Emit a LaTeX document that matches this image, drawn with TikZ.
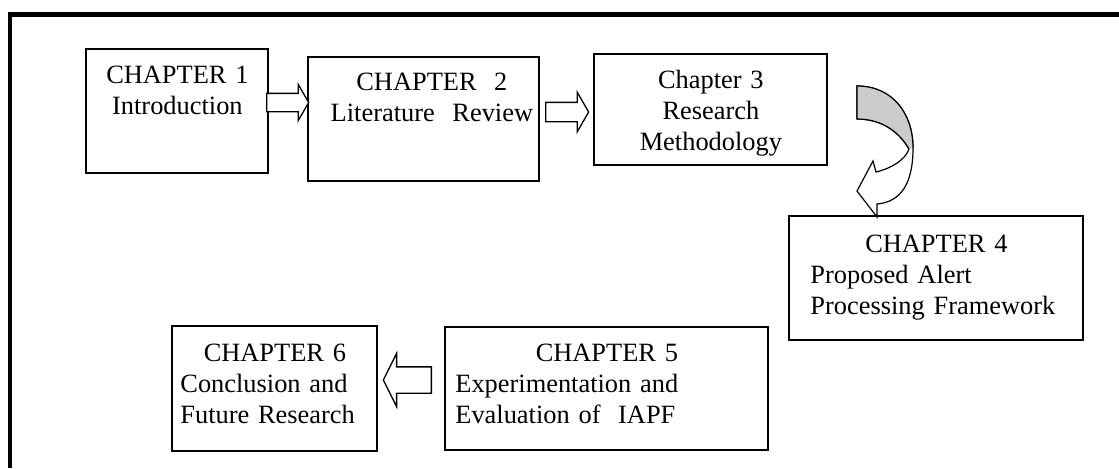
\documentclass[tikz,border=0pt]{standalone}
\usepackage{fontspec}
\setmainfont{Liberation Serif}
\usetikzlibrary{shapes.arrows,fit}

\begin{document}
\begin{tikzpicture}[
 x=0.5pt,y=-0.5pt,
 chbox/.style={draw,line width=0.75pt,inner sep=0pt},
 chtext/.style={inner sep=0pt,anchor=base west,font=\fontsize{13.2}{15.5}\selectfont},
 harr/.style={single arrow,draw,fill=white,line width=0.65pt,inner xsep=0pt,
  single arrow head indent=0pt,anchor=tail}]
\useasboundingbox (0,0) rectangle (1119,468);
\draw[line width=2.3pt,line join=miter] (10,468)--(10,14.5)--(1119,14.5);
% chapter boxes
\node[chbox,fit={(86,49)(268,173)}] (c1) {};
\node[chbox,fit={(308,57)(539,181)}] (c2) {};
\node[chbox,fit={(594,54)(827,165)}] (c3) {};
\node[chbox,fit={(789,216)(1083,340)}] (c4) {};
\node[chbox,fit={(445,327)(768,450)}] (c5) {};
\node[chbox,fit={(172,326)(377,451)}] (c6) {};
% texts
\node[chtext,text width=91pt,align=center] (t1) at (86,83) {CHAPTER 1\\Introduction};
\node[chtext,text width=115.5pt,align=center] (t2) at (316,90) {CHAPTER\ \ 2\\Literature\ \ Review};
\node[chtext,text width=116.5pt,align=center] (t3) at (594,88) {Chapter 3\\Research\\Methodology};
\node[chtext,text width=126pt,align=left] (t4) at (810,252) {\makebox[\linewidth]{CHAPTER 4}\\Proposed Alert\\Processing Framework};
\node[chtext,text width=151.5pt,align=left] (t5) at (455,361) {\makebox[\linewidth]{CHAPTER 5}\\Experimentation and\\Evaluation of\ \ IAPF};
\node[chtext,text width=94.5pt,align=left] (t6) at (180,361) {\makebox[\linewidth]{CHAPTER 6}\\Conclusion and\\Future Research};
% block arrows
\node[harr,minimum height=21pt,inner ysep=4.25pt,single arrow head extend=4.5pt,
 single arrow tip angle=120] (a12) at (266,102.5) {};
\node[harr,minimum height=21.5pt,inner ysep=4.5pt,single arrow head extend=5pt,
 single arrow tip angle=120] (a23) at (545,112) {};
\node[harr,minimum height=24pt,inner ysep=6.25pt,single arrow head extend=6.75pt,
 single arrow tip angle=127,shape border rotate=180] (a56) at (432,380) {};
% bent arrow from chapter 3 down to chapter 4
\filldraw[fill=white,line width=0.6pt,line join=miter]
 (857,86) .. controls (892,86) and (913,113) .. (913,148)
 .. controls (913,185) and (900,202) .. (877,204)
 -- (877,217) -- (857,191) -- (873,161) -- (876,172)
 .. controls (892,168) and (905,160) .. (909,149)
 .. controls (898,130) and (880,119) .. (857,119) -- cycle;
\fill[black!20] (857,86) .. controls (892,86) and (913,113) .. (913,148)
 -- (909,149) .. controls (898,130) and (880,119) .. (857,119) -- cycle;
\draw[line width=0.6pt] (857,119) -- (857,86) .. controls (892,86) and (913,113) .. (913,148);
\draw[line width=0.6pt] (909,149) .. controls (898,130) and (880,119) .. (857,119);
\end{tikzpicture}
\end{document}
